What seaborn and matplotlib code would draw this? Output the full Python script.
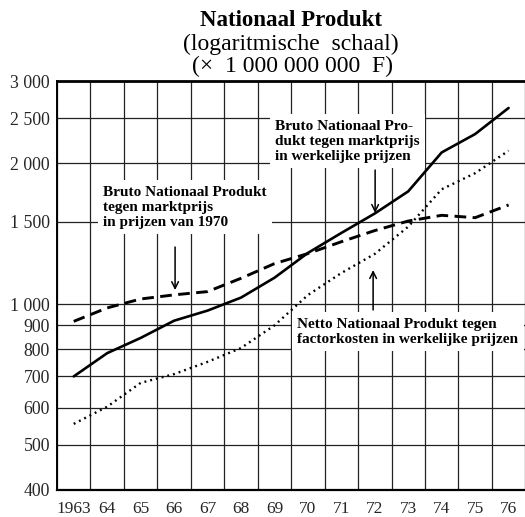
import numpy as np
import pandas as pd
import matplotlib
matplotlib.use("Agg")
import matplotlib.pyplot as plt
from matplotlib.ticker import NullLocator, FixedLocator, FixedFormatter
import seaborn as sns

# ---- data ----
years = list(range(1963, 1977))
bnp_werkelijk = [700, 785, 846, 921, 968, 1032, 1138, 1286, 1419, 1562, 1742, 2110, 2310, 2627]
bnp_1970 = [918, 981, 1025, 1046, 1063, 1135, 1220, 1282, 1359, 1436, 1505, 1548, 1530, 1629]
nnp_factor = [554, 603, 678, 708, 752, 805, 900, 1045, 1165, 1280, 1464, 1760, 1905, 2128]

y_ticks = [400, 500, 600, 700, 800, 900, 1000, 1500, 2000, 2500, 3000]
y_labels = ["400", "500", "600", "700", "800", "900", "1 000", "1 500", "2 000", "2 500", "3 000"]
x_labels = ["1963", "64", "65", "66", "67", "68", "69", "70", "71", "72", "73", "74", "75", "76"]

title_lines = ["Nationaal Produkt", "(logaritmische  schaal)", "(\u00d7  1 000 000 000  F)"]
label_bnp_werkelijk = "Bruto Nationaal Pro-\ndukt tegen marktprijs\nin werkelijke prijzen"
label_bnp_1970 = "Bruto Nationaal Produkt\ntegen marktprijs\nin prijzen van 1970"
label_nnp = "Netto Nationaal Produkt tegen\nfactorkosten in werkelijke prijzen"

sns.set_theme(style="white")
plt.rcParams["font.family"] = ["Liberation Serif", "DejaVu Serif"]
plt.rcParams["text.color"] = "black"

W, H = 525, 517
fig = plt.figure(figsize=(W / 100, H / 100), dpi=100)
fig.patch.set_facecolor("white")
ax = fig.add_axes([57 / W, 1 - 490 / H, 470 / W, 409 / H])
ax.set_facecolor("white")

df = pd.DataFrame({"jaar": years, "bw": bnp_werkelijk, "b70": bnp_1970, "nnp": nnp_factor})

sns.lineplot(data=df, x="jaar", y="bw", ax=ax, color="black", lw=1.9, zorder=5)
sns.lineplot(data=df, x="jaar", y="b70", ax=ax, color="black", lw=2.1, zorder=5)
ax.lines[-1].set_dashes([4.0, 2.2])
sns.lineplot(data=df, x="jaar", y="nnp", ax=ax, color="black", lw=1.7, zorder=5,
             linestyle=(0, (0.8, 1.7)))

ax.set_yscale("log")
ax.set_ylim(400, 3000)
ax.set_xlim(1962.5, 1976.55)
ax.yaxis.set_major_locator(FixedLocator(y_ticks))
ax.yaxis.set_major_formatter(FixedFormatter(y_labels))
ax.yaxis.set_minor_locator(NullLocator())
ax.set_xticks(years)
ax.set_xticklabels(x_labels)
ax.set_xticks([y + 0.5 for y in [1962] + years], minor=True)
ax.tick_params(axis="both", which="both", length=0)
ax.tick_params(axis="y", labelsize=12.8, pad=5)
ax.tick_params(axis="x", labelsize=12.5, pad=8)
ax.set_xlabel("")
ax.set_ylabel("")

ax.grid(False)
ax.grid(True, axis="y", which="major", color="#222222", lw=0.9, zorder=1)
ax.grid(True, axis="x", which="minor", color="#222222", lw=0.9, zorder=1)

for side in ["left", "bottom", "top"]:
    ax.spines[side].set_visible(True)
    ax.spines[side].set_color("black")
ax.spines["left"].set_linewidth(1.4)
ax.spines["bottom"].set_linewidth(1.6)
ax.spines["top"].set_linewidth(2.0)
ax.spines["right"].set_visible(False)

box = dict(boxstyle="square,pad=0.35", fc="white", ec="none")
tfont = dict(fontsize=11, fontweight="bold", linespacing=1.2, zorder=4)
arrow = dict(arrowstyle="->", color="black", lw=1.1, shrinkA=0, shrinkB=0)

ax.text(1963.88, 1790, label_bnp_1970, ha="left", va="top", bbox=box, **tfont)
ax.annotate("", xy=(1966.03, 1071), xytext=(1966.03, 1324), arrowprops=arrow, zorder=6)

ax.text(1969.02, 2480, label_bnp_werkelijk, ha="left", va="top", bbox=box, **tfont)
ax.annotate("", xy=(1972.01, 1566), xytext=(1972.01, 1935), arrowprops=arrow, zorder=6)

ax.text(1969.68, 935, label_nnp, ha="left", va="top", bbox=box, **tfont)
ax.annotate("", xy=(1971.95, 1182), xytext=(1971.95, 971), arrowprops=arrow, zorder=6)

fig.text(291 / W, 1 - 20 / H, title_lines[0], ha="center", va="center", fontsize=16.5, fontweight="bold")
fig.text(291 / W, 1 - 44 / H, title_lines[1], ha="center", va="center", fontsize=17)
fig.text(292 / W, 1 - 66 / H, title_lines[2], ha="center", va="center", fontsize=17)

fig.savefig("out.png", dpi=100, facecolor="white")
